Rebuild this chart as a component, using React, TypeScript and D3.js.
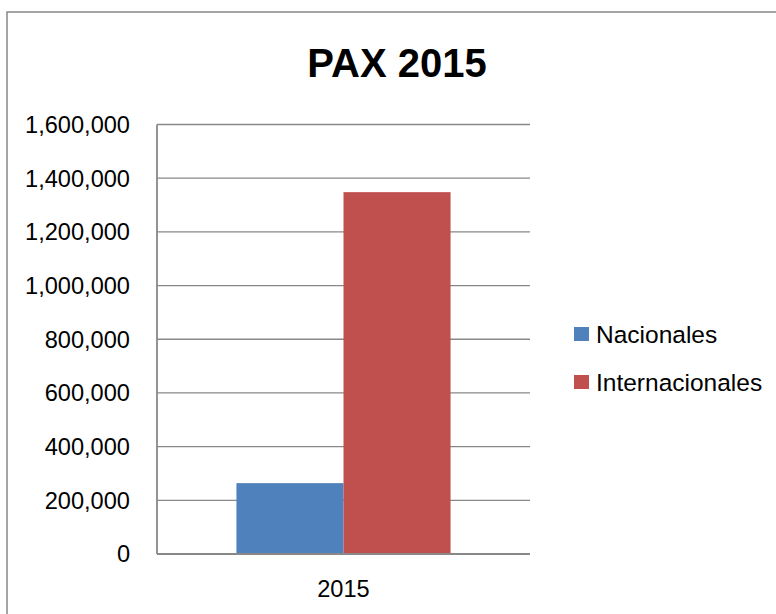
import React from 'react';
import * as d3 from 'd3';

const categories = ['2015'];
const seriesNames = ['Nacionales', 'Internacionales'];
const nacionales = [264000];
const internacionales = [1348000];
const seriesColors = ['#4F81BD', '#C0504D'];
const yTicks = [0, 200000, 400000, 600000, 800000, 1000000, 1200000, 1400000, 1600000];
const title = 'PAX 2015';

const W = 776;
const H = 614;
const font = '"Liberation Sans", Arial, sans-serif';
const plot = { left: 157, right: 530, top: 124.5, bottom: 554 };

const App = () => {
  const values = [nacionales, internacionales];

  const x = d3.scaleBand().domain(categories).range([plot.left, plot.right]).paddingInner(0).paddingOuter(0);
  const y = d3.scaleLinear().domain([0, 1600000]).range([plot.bottom, plot.top]);
  // two bars fill ~57% of the category band
  const groupW = x.bandwidth() * 0.574;
  const inner = d3.scaleBand().domain(seriesNames).range([0, groupW]);
  const fmt = d3.format(',');

  return (
    <svg width={W} height={H} style={{ position: 'absolute', left: 0, top: 0, background: '#fff' }}>
      <rect x={7} y={12} width={W + 40} height={H + 40} fill="#fff" stroke="#888" strokeWidth={1.5} />

      <text x={397} y={77} textAnchor="middle" fontFamily={font} fontWeight="bold" fontSize={40} fill="#000">
        {title}
      </text>

      {/* gridlines + y labels */}
      {yTicks.map((t) => (
        <g key={t}>
          {t > 0 && (
            <line x1={plot.left} x2={plot.right} y1={y(t)} y2={y(t)} stroke="#888" strokeWidth={1.3} />
          )}
          <text x={130} y={y(t)} dy="0.36em" textAnchor="end" fontFamily={font} fontSize={23.6} fill="#000">
            {fmt(t)}
          </text>
        </g>
      ))}

      {/* bars */}
      {categories.map((c, ci) => {
        const gx = (x(c) as number) + (x.bandwidth() - groupW) / 2;
        return (
          <g key={c}>
            {seriesNames.map((s, si) => (
              <rect
                key={s}
                x={gx + (inner(s) as number)}
                y={y(values[si][ci])}
                width={inner.bandwidth()}
                height={plot.bottom - y(values[si][ci])}
                fill={seriesColors[si]}
              />
            ))}
            <text
              x={(x(c) as number) + x.bandwidth() / 2}
              y={597}
              textAnchor="middle"
              fontFamily={font}
              fontSize={23.6}
              fill="#000"
            >
              {c}
            </text>
          </g>
        );
      })}

      {/* axes */}
      <line x1={plot.left} x2={plot.left} y1={plot.top} y2={plot.bottom} stroke="#888" strokeWidth={1.8} />
      <line x1={plot.left} x2={plot.right} y1={plot.bottom} y2={plot.bottom} stroke="#888" strokeWidth={1.8} />

      {/* legend */}
      {seriesNames.map((s, i) => (
        <g key={s} transform={`translate(574, ${327 + i * 48})`}>
          <rect x={0} y={0} width={15} height={14} fill={seriesColors[i]} />
          <text x={22} y={7} dy="0.36em" fontFamily={font} fontSize={24.5} fill="#000">
            {s}
          </text>
        </g>
      ))}
    </svg>
  );
};

export default App;
